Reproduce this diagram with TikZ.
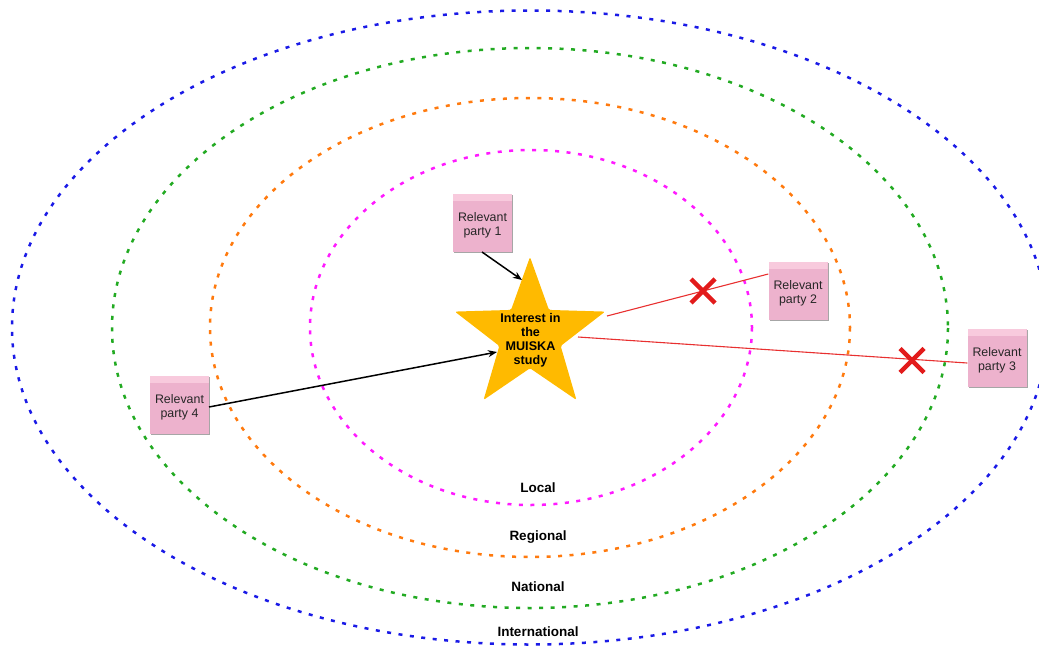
\documentclass[tikz,border=0pt]{standalone}
\usepackage{fontspec}
\setmainfont{Liberation Sans}
\usetikzlibrary{shapes.geometric,arrows.meta,shadows}

\definecolor{ringlocal}{HTML}{FF1AFF}
\definecolor{ringregional}{HTML}{FF7A0E}
\definecolor{ringnational}{HTML}{22AA22}
\definecolor{ringintl}{HTML}{1A1AE6}
\definecolor{notebody}{HTML}{EDB2CD}
\definecolor{notetop}{HTML}{F8CADD}
\definecolor{stargold}{HTML}{FFBA00}
\definecolor{crossred}{HTML}{E21B1B}
\definecolor{linkred}{HTML}{E83030}

\tikzset{
  ring/.style={line width=2.5pt, dash pattern=on 4pt off 7.5pt},
  ringlabel/.style={font=\fontsize{13.5}{16}\selectfont\bfseries, text=black},
  notetext/.style={align=center, text=black!85, inner sep=0pt,
    font=\fontsize{12.4}{14}\selectfont},
  note/.style={fill=notebody, minimum width=59pt, minimum height=58pt,
    inner sep=0pt,
    label={[notetext, yshift=-2.5pt]center:{#1}},
    drop shadow={shadow xshift=1.2pt, shadow yshift=-1.2pt, fill=black, opacity=0.35},
    path picture={\fill[notetop] (path picture bounding box.north west)
       rectangle ([yshift=-7pt]path picture bounding box.north east);}},
  link/.style={-{Stealth[length=9pt,width=7pt]}, line width=1.5pt, black},
  reject/.style={linkred, line width=1.1pt},
  crossmark/.style={crossred, line width=4.5pt},
}

\begin{document}
\begin{tikzpicture}[x=1pt,y=-1pt]
\useasboundingbox (0,0) rectangle (1039,648);

% concentric scopes of interest
\draw[ring, ringintl]     (530,327.5) ellipse [x radius=518, y radius=317];
\draw[ring, ringnational] (530,328)   ellipse [x radius=418, y radius=280];
\draw[ring, ringregional] (530,327.5) ellipse [x radius=320, y radius=229.5];
\draw[ring, ringlocal]    (531,327.5) ellipse [x radius=221, y radius=177.5];

\node[ringlabel] (lblLocal)    at (538,488) {Local};
\node[ringlabel] (lblRegional) at (538,537) {Regional};
\node[ringlabel] (lblNational) at (538,587) {National};
\node[ringlabel] (lblIntl)     at (538,632) {International};

% central interest
\node[star, star points=5, star point ratio=2.45, minimum size=158pt,
      inner sep=0pt, fill=stargold, rounded corners=1.5pt] (star) at (530,336) {};
\node[align=center, font=\fontsize{12.6}{14}\selectfont\bfseries]
      (starText) at (530.5,340.5) {Interest in\\the\\MUISKA\\study};

% relevant parties
\node[note={Relevant\\party 1}] (p1) at (482.5,223)   {};
\node[note={Relevant\\party 2}] (p2) at (798,290.5)   {};
\node[note={Relevant\\party 3}] (p3) at (997,357.5)   {};
\node[note={Relevant\\party 4}] (p4) at (179.5,404.5) {};

% attachment points on the star
\coordinate (inTop)   at (522,280);
\coordinate (inLeft)  at (497,352);
\coordinate (outTip)  at (607,316);
\coordinate (outBody) at (578,337);
\coordinate (p1out)   at (482,252);
\coordinate (p4out)   at (209,407);

% connections
\draw[link] (p1out) -- (inTop);
\draw[link] (p4out) -- (inLeft);
\draw[reject] (outTip) -- (p2.west |- 0,274);
\draw[reject] (outBody) -- (p3.west |- 0,363);

% rejected links
\coordinate (x1) at (703,291);
\coordinate (x2) at (912,360.5);
\foreach \c in {x1,x2}{
  \draw[crossmark] ([shift={(-12,-12)}]\c) -- ([shift={(12,12)}]\c);
  \draw[crossmark] ([shift={(-12,12)}]\c) -- ([shift={(12,-12)}]\c);
}
\end{tikzpicture}
\end{document}
